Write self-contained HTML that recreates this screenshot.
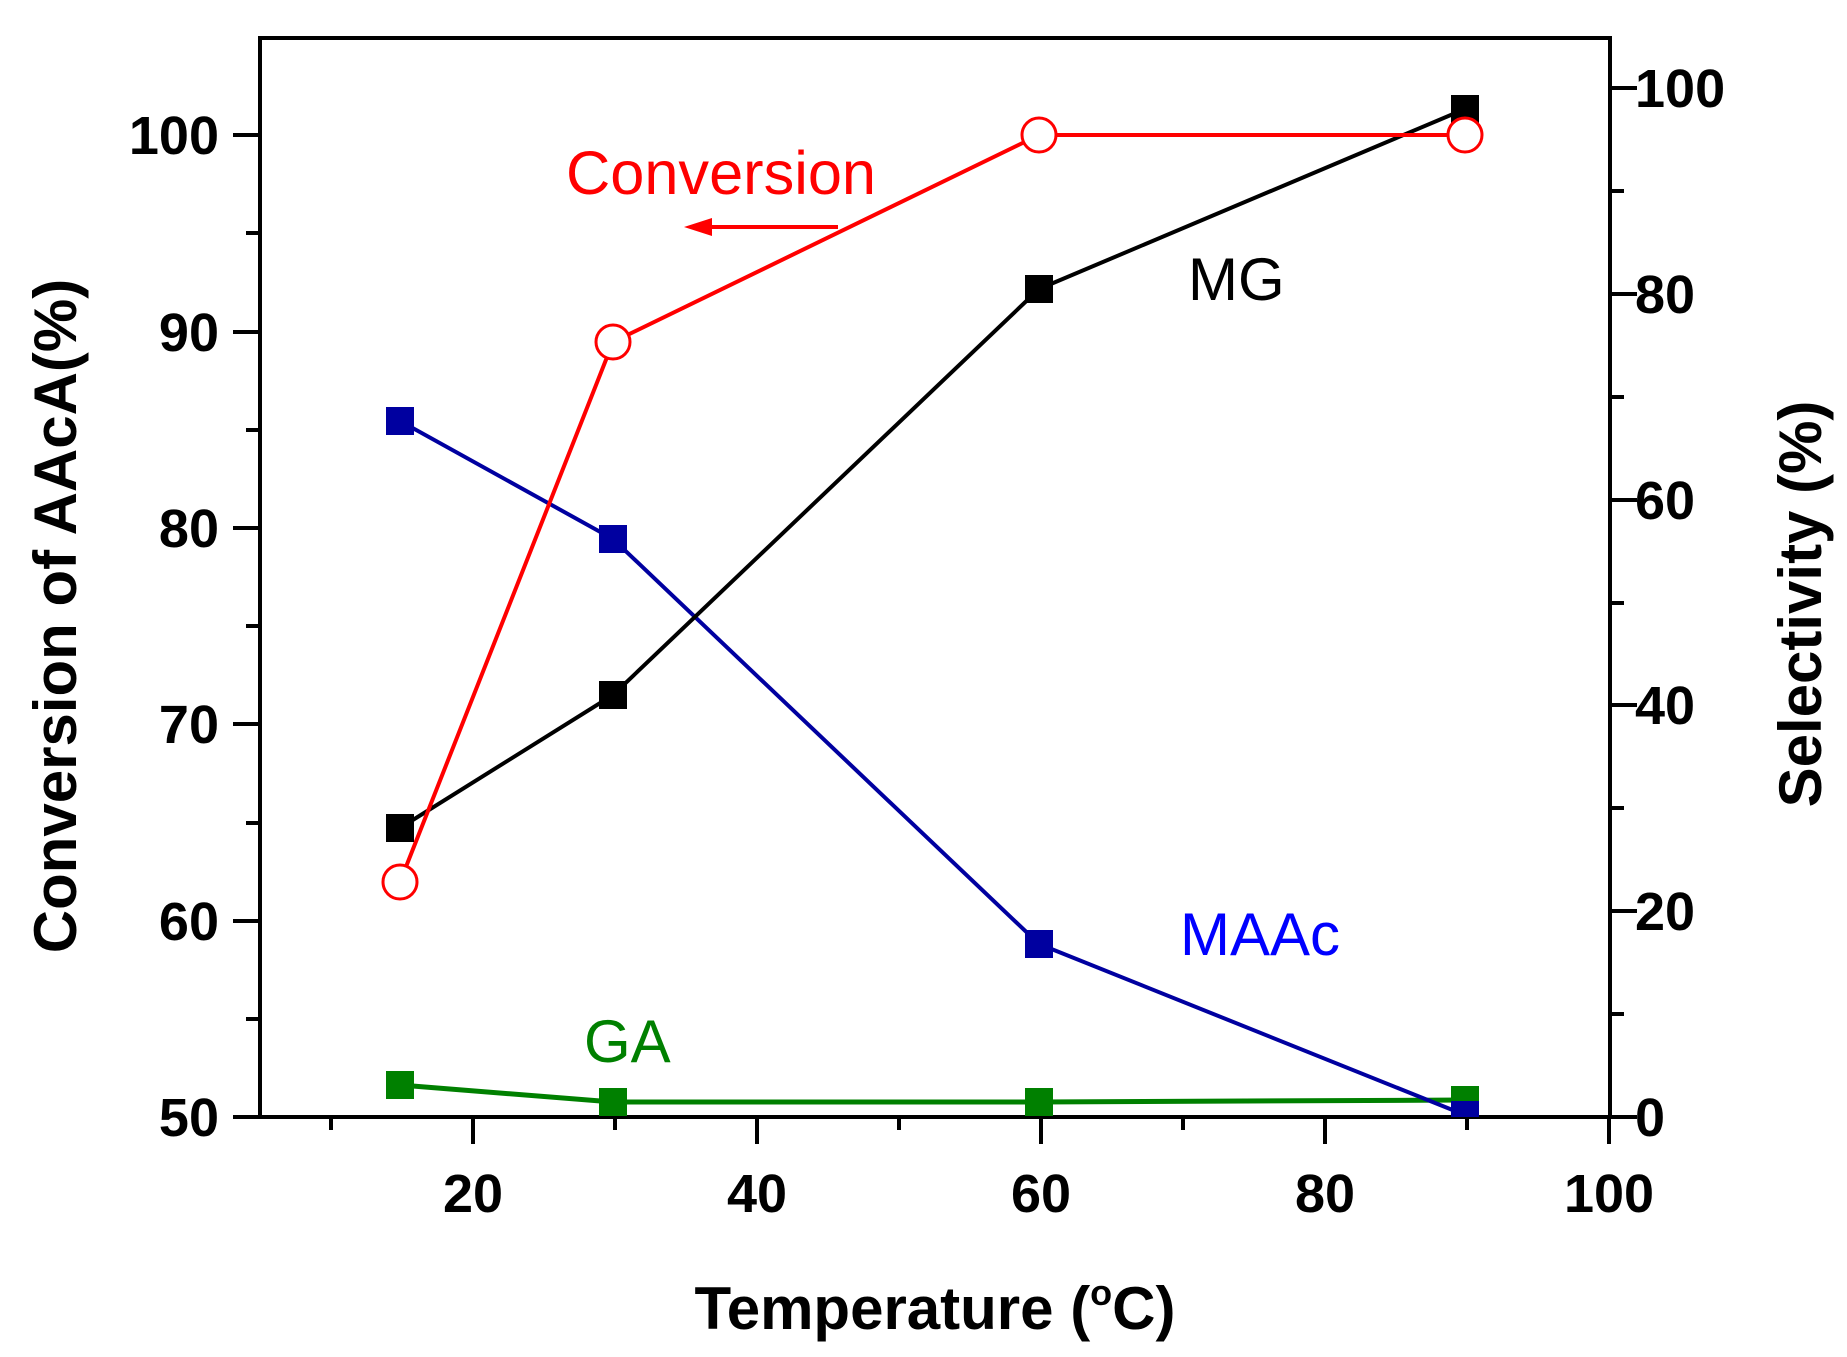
<!DOCTYPE html>
<html><head><style>body{margin:0;background:#fff}svg{display:block}</style></head><body>
<svg width="1847" height="1357" viewBox="0 0 1847 1357" xmlns="http://www.w3.org/2000/svg" font-family="Liberation Sans, Arial, sans-serif">
<g stroke="#000" stroke-width="4" fill="none">
<rect x="260" y="38" width="1350" height="1079"/>
<line x1="233" y1="1117" x2="260" y2="1117"/>
<path d="M331 1117v13M473 1117v27M615 1117v13M757 1117v27M899 1117v13M1041 1117v27M1183 1117v13M1325 1117v27M1467 1117v13M1609 1117v27"/>
<path d="M260 1117h-27M260 1019h-14M260 921h-27M260 823h-14M260 724h-27M260 626h-14M260 528h-27M260 430h-14M260 332h-27M260 233h-14M260 135h-27"/>
<path d="M1610 1117h27M1610 1014h14M1610 911h27M1610 808h14M1610 705h27M1610 603h14M1610 500h27M1610 397h14M1610 294h27M1610 191h14M1610 88h27"/>
</g>
<g font-weight="bold" font-size="54" fill="#000">
<g text-anchor="end">
<text x="219" y="1136">50</text><text x="219" y="940">60</text><text x="219" y="743">70</text><text x="219" y="547">80</text><text x="219" y="351">90</text><text x="219" y="154">100</text>
</g>
<g text-anchor="start">
<text x="1635" y="1136">0</text><text x="1635" y="930">20</text><text x="1635" y="724">40</text><text x="1635" y="519">60</text><text x="1635" y="313">80</text><text x="1635" y="107">100</text>
</g>
<g text-anchor="middle">
<text x="473" y="1212">20</text><text x="757" y="1212">40</text><text x="1041" y="1212">60</text><text x="1325" y="1212">80</text><text x="1609" y="1212">100</text>
<text x="935" y="1329" font-size="60">Temperature (<tspan font-size="36" dy="-24">o</tspan><tspan dy="24">C)</tspan></text>
<text transform="translate(76,616) rotate(-90)" font-size="60">Conversion of AAcA(%)</text>
<text transform="translate(1821,604) rotate(-90)" font-size="60">Selectivity (%)</text>
</g>
</g>
<polyline points="400,1085 613,1102 1039,1102 1465,1100" stroke="#008000" stroke-width="5" fill="none"/>
<polyline points="400,421 613,539 1039,944 1465,1115" stroke="#0000a0" stroke-width="4" fill="none"/>
<polyline points="400,828 613,695 1039,289 1465,109" stroke="#000" stroke-width="4" fill="none"/>
<polyline points="400,882 613,342 1039,135 1465,135" stroke="#ff0000" stroke-width="4" fill="none"/>
<g fill="#008000"><rect x="386" y="1071" width="28" height="28"/><rect x="599" y="1088" width="28" height="28"/><rect x="1025" y="1088" width="28" height="28"/><rect x="1451" y="1086" width="28" height="28"/></g>
<g fill="#0000a0"><rect x="386" y="407" width="28" height="28"/><rect x="599" y="525" width="28" height="28"/><rect x="1025" y="930" width="28" height="28"/><rect x="1451" y="1101" width="28" height="16"/></g>
<g fill="#000"><rect x="386" y="814" width="28" height="28"/><rect x="599" y="681" width="28" height="28"/><rect x="1025" y="275" width="28" height="28"/><rect x="1451" y="95" width="28" height="28"/></g>
<g fill="#fff" stroke="#ff0000" stroke-width="3"><circle cx="400" cy="882" r="17"/><circle cx="613" cy="342" r="17"/><circle cx="1039" cy="135" r="17"/><circle cx="1465" cy="135" r="17"/></g>
<text x="566" y="194" font-size="61" fill="#ff0000" textLength="310" lengthAdjust="spacingAndGlyphs">Conversion</text>
<line x1="838" y1="227" x2="700" y2="227" stroke="#ff0000" stroke-width="4"/>
<polygon points="684,227 712,218 712,236" fill="#ff0000"/>
<text x="1188" y="300" font-size="60" fill="#000">MG</text>
<text x="1180" y="955" font-size="60" fill="#0000ff">MAAc</text>
<text x="584" y="1062" font-size="60" fill="#008000">GA</text>
</svg>
</body></html>
